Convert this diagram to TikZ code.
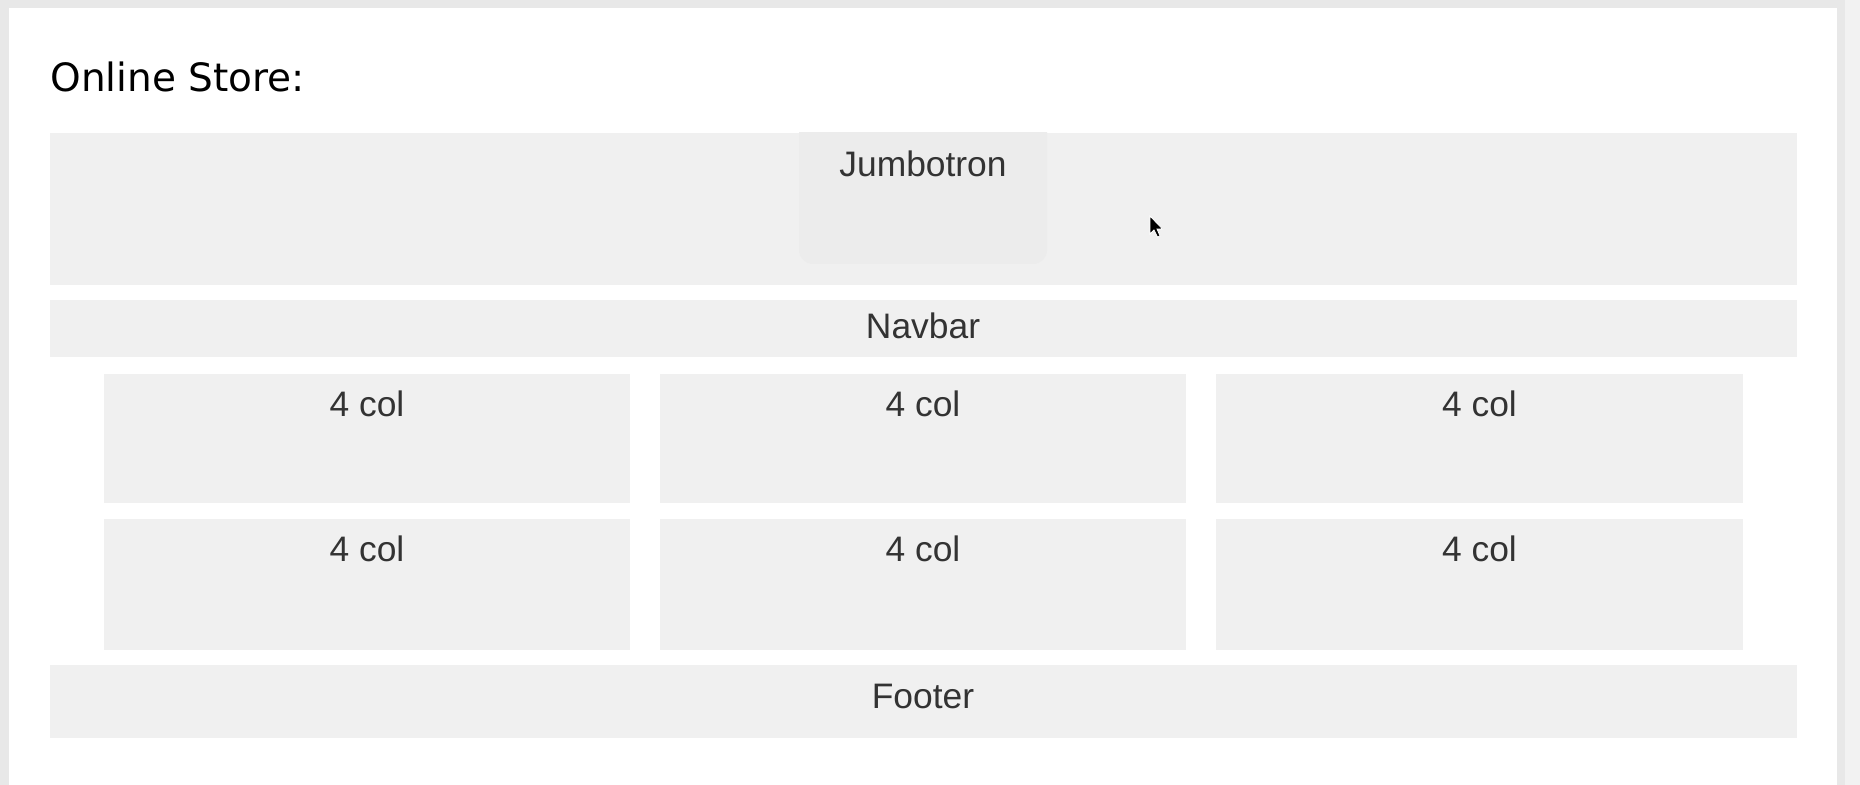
\documentclass[tikz,border=0pt]{standalone}
\usepackage{fontspec}
\setmainfont{Liberation Sans}
\newfontfamily\titlefont{DejaVu Sans}
\usetikzlibrary{fit}
\definecolor{panelgray}{HTML}{F0F0F0}
\definecolor{innergray}{HTML}{ECECEC}
\definecolor{txtgray}{HTML}{333333}
\definecolor{shadowgray}{HTML}{E8E8E8}
\definecolor{shadowlight}{HTML}{F2F2F2}
\begin{document}
\begin{tikzpicture}[x=0.5pt,y=-0.5pt,
  panel/.style={fill=panelgray, draw=none, inner sep=0pt},
  lbl/.style={anchor=base, text=txtgray, font=\fontsize{17.7}{21}\selectfont, inner sep=0pt}]
\useasboundingbox (0,0) rectangle (1860,785);
\fill[shadowgray] (0,0) rectangle (1860,785);
\fill[shadowlight] (1845,0) rectangle (1860,785);
\fill[white] (9,8) rectangle (1837,785);
% title
\node[anchor=base west, inner sep=0pt, font=\titlefont\fontsize{19.5}{23}\selectfont] (title) at (50,92) {Online Store:};
% jumbotron
\node[panel, fit={(50,133) (1797,285)}] (jumbo) {};
\begin{scope}
  \clip (50,133) rectangle (1797,285);
  \fill[innergray, rounded corners=7pt] (799,110) rectangle (1047,264);
\end{scope}
\node[lbl] (jumbotxt) at (923,177) {Jumbotron};
% navbar
\node[panel, fit={(50,300) (1797,357)}] (navbar) {};
\node[lbl] (navtxt) at (923,339) {Navbar};
% columns
\node[panel, fit={(104,374) (630,503)}] (c11) {};
\node[panel, fit={(660,374) (1186,503)}] (c12) {};
\node[panel, fit={(1216,374) (1743,503)}] (c13) {};
\node[panel, fit={(104,519) (630,650)}] (c21) {};
\node[panel, fit={(660,519) (1186,650)}] (c22) {};
\node[panel, fit={(1216,519) (1743,650)}] (c23) {};
\node[lbl] (t11) at (367,416.5) {4 col};
\node[lbl] (t12) at (923,416.5) {4 col};
\node[lbl] (t13) at (1479.5,416.5) {4 col};
\node[lbl] (t21) at (367,562) {4 col};
\node[lbl] (t22) at (923,562) {4 col};
\node[lbl] (t23) at (1479.5,562) {4 col};
% footer
\node[panel, fit={(50,665) (1797,738)}] (footer) {};
\node[lbl] (foottxt) at (923,709) {Footer};
% cursor
\fill[black, draw=white, line width=0.4pt, line join=miter]
  (1150,216) -- (1150,234) -- (1154,230) -- (1157.5,237) -- (1160,236) -- (1157,229) -- (1162.5,229) -- cycle;
\end{tikzpicture}
\end{document}
